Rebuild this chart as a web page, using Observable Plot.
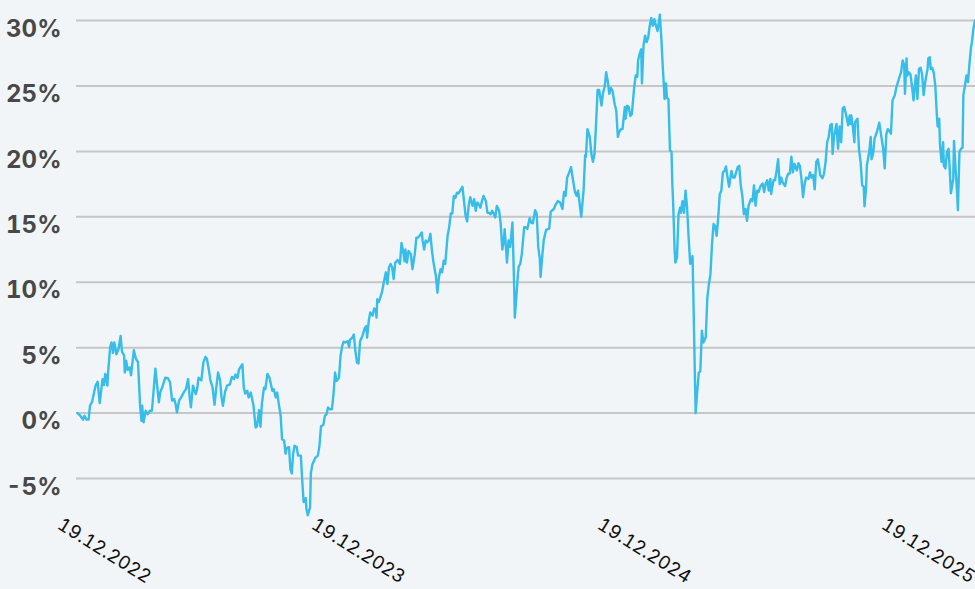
<!DOCTYPE html>
<html><head><meta charset="utf-8">
<script src="https://cdn.jsdelivr.net/npm/d3@7"></script>
<script src="https://cdn.jsdelivr.net/npm/@observablehq/plot@0.6"></script>
<style>
html,body{margin:0;padding:0;background:#f2f5f7;}
#chart{width:975px;height:589px;overflow:hidden;}
</style></head><body><div id="chart"></div>
<script>
// Series start date and day offsets from it, with cumulative performance in %
const startDate = "2022-12-19";
const endOffset = 1221;
const dayOffsets = [
33,37,41,43,46,49,51,54,59,62,65,69,71,73,76,77,80,82,84,86,89,92,95,97,100,101,103,105,108,110,114,117,120,123,125,126,128,131,134,137,140,143,145,148,150,152,155,159,163,166,169,172,174,176,179,182,186,189,192,194,196,199,203,205,207,211,214,217,219,222,224,227,230,232,235,238,240,242,245,248,252,255,258,260,263,265,267,270,272,274,277,279,282,284,286,289,291,294,296,298,301,303,306,309,313,315,318,320,322,325,327,330,332,334,337,339,341,343,345,348,350,354,356,358,361,362,364,
367,368,370,372,374,377,379,381,384,386,388,390,392,395,397,399,401,404,406,408,410,412,415,417,418,421,423,425,427,429,431,434,437,439,440,442,444,447,449,451,452,453,455,457,459,461,464,466,468,470,472,474,476,479,482,484,486,488,489,491,493,496,498,501,503,505,507,510,511,513,515,517,519,521,523,525,528,530,532,534,536,538,540,543,545,547,549,551,553,555,557,560,562,564,566,568,570,572,575,577,579,581,583,585,587,589,592,594,596,598,600,602,604,606,609,611,613,615,616,618,619,621,623,626,628,629,631,633,634,636,638,641,643,645,648,650,652,655,657,659,661,662,664,666,669,673,675,677,679,681,684,687,690,692,694,696,698,701,703,706,708,710,712,714,717,719,720,722,725,727,729,731,
733,735,737,740,742,744,746,748,750,752,754,757,759,761,763,765,767,770,771,773,775,777,779,782,784,786,787,789,791,792,794,796,798,800,802,804,806,808,810,812,814,815,817,819,820,821,823,824,826,828,830,831,832,834,835,837,839,841,842,844,846,848,850,852,854,857,858,859,860,861,863,865,867,869,871,874,876,878,880,882,884,886,888,890,892,894,896,898,900,902,904,907,909,911,913,915,917,919,921,923,925,927,929,932,934,936,938,940,942,944,947,949,951,953,955,957,958,961,963,965,967,969,971,973,976,978,980,982,984,986,988,991,993,995,997,999,1001,1003,1006,1008,1010,1012,1014,1016,1018,1020,1021,1024,1026,1028,1030,1032,1034,1036,1037,1039,1042,1044,1046,1048,1050,1052,1054,1057,1059,1060,1061,1063,1065,1066,1069,1071,1073,1075,1077,1078,1080,1081,1084,1086,1087,1089,1091,1094,
1097,1100,1102,1104,1106,1108,1110,1112,1114,1117,1119,1121,1123,1125,1127,1129,1130,1132,1133,1135,1137,1139,1141,1144,1146,1148,1150,1152,1154,1156,1159,1160,1162,1163,1165,1167,1169,1171,1172,1174,1175,1177,1179,1180,1182,1184,1186,1187,1189,1192,1193,1195,1197,1198,1200,1202,1204,1205,1207,1209,1211,1213,1215,1216,1218,1220
];
const values = [
0,-0.2,-0.5,-0.2,-0.5,-0.5,0.56,0.87,2.1,2.4,0.77,2.6,2.15,3.0,2.1,3.1,5.05,5.4,4.6,5.4,4.5,4.9,5.9,4.7,4.4,3.1,4.0,3.3,3.5,2.9,4.8,4.15,3.9,0.56,-0.6,0.56,-0.7,0.18,-0.08,0.18,0.18,2.1,3.4,1.85,0.82,1.6,2.0,2.7,2.67,2.36,0.95,1.08,0.7,0.05,0.95,1.2,1.6,1.85,2.6,1.33,0.44,2.1,1.46,1.85,2.7,2.5,3.9,4.3,4.15,3.25,2.5,2.0,0.64,1.7,3.1,2.5,1.2,0.56,1.6,2.1,2.2,2.77,2.6,2.95,2.7,3.3,3.5,3.73,1.95,1.5,1.7,1.2,1.57,1.07,0.56,-1.1,-1.0,0.23,-1.04,0.7,1.95,1.83,3.0,2.7,1.7,1.83,1.2,1.57,0.8,-0.2,-2.0,-2.1,-3.1,-2.65,-2.6,-4.3,-4.6,-3.1,-2.5,-2.6,-3.25,-3.25,-5.15,-6.8,-6.5,-7.3,-7.8,
-7.2,-4.6,-3.9,-3.65,-3.4,-3.25,-2.5,-1.0,-0.9,-0.2,-0.1,0.43,0.3,0.3,1.45,3.1,2.46,2.7,4.37,5.1,5.46,5.4,5.5,5.05,5.6,5.76,6.0,4.75,3.86,3.8,5.5,5.9,6.5,6.65,5.76,7.0,7.7,7.45,8.0,7.9,7.3,8.7,8.5,8.86,9.24,9.87,10.76,9.87,11.14,11.4,11.14,10.25,11.5,11.7,11.4,13.0,12.4,11.6,12.5,11.5,12.4,12.15,11.0,12.15,13.4,13.4,13.55,13.8,13.2,12.5,13.2,13.05,13.2,13.7,12.4,11.5,10.5,9.2,10.4,11.0,10.76,11.65,11.4,13.55,14.2,15.25,15.25,16.6,16.45,16.85,16.8,17.1,17.3,16.2,15.1,14.65,15.84,16.5,15.84,16.35,15.46,16.1,15.96,15.7,16.2,16.6,16.2,15.3,15.3,15.2,15.46,15.25,14.95,15.84,15.46,14.44,12.5,13.2,14.06,12.4,11.5,13.2,12.7,14.57,10.1,7.3,8.86,10.6,11.2,11.4,12.16,14.2,14.2,14.07,14.9,14.55,14.5,15.5,15.25,12.7,11.8,10.4,11.9,13.2,14.0,14.1,15.4,15.5,15.6,15.9,16.2,16.1,15.6,16.9,16.6,18.0,18.3,18.8,18.0,16.9,16.6,17.0,16.0,15.0,17.0,19.7,19.6,21.7,21.1,19.8,19.2,19.8,
22.1,24.7,24.7,23.5,24.5,24.9,26.05,25.4,24.4,24.85,24.65,23.6,23.1,21.1,21.5,21.7,21.7,23.4,22.5,23.5,23.4,22.7,22.85,24.9,25.8,25.7,26.95,27.45,27.8,25.2,28.1,28.85,28.35,28.7,29.6,30.2,29.6,30.1,29.6,29.2,30.0,30.45,28.5,26.2,25.2,24.0,25.2,24.1,24.0,20.1,19.95,17.5,16.2,12.4,11.5,11.9,15.2,15.7,15.3,16.2,15.3,17.0,15.7,13.4,11.4,12.0,9.1,6.0,2.9,0.0,1.65,3.1,3.2,6.3,5.4,5.8,8.8,9.85,10.6,12.9,14.45,14.3,13.55,14.95,16.75,17.0,18.4,18.5,18.85,18.0,17.3,18.5,18.0,18.0,18.4,18.8,18.9,17.4,16.6,15.2,15.6,14.7,15.85,16.35,16.2,17.4,15.85,17.0,16.9,17.3,17.55,16.9,17.55,17.8,17.0,17.9,16.75,17.8,17.8,18.5,19.4,17.5,18.0,17.6,17.35,18.0,18.3,18.3,19.6,18.4,19.05,18.55,19.1,18.9,17.9,16.5,17.5,18.0,17.9,18.4,18.0,18.2,17.1,19.2,19.4,18.7,18.2,17.95,18.3,19.2,20.7,21.1,22.0,22.1,19.8,21.2,22.1,20.2,21.9,20.7,23.3,23.4,22.9,22.0,22.75,22.1,22.75,21.9,20.7,22.25,22.5,20.1,19.2,17.4,17.3,15.8,17.15,18.9,19.95,21.1,19.4,19.8,21.0,21.5,
22.2,21.0,20.2,18.7,21.3,21.7,21.55,21.35,23.9,24.3,24.9,25.3,25.7,26.05,26.95,26.6,24.4,27.1,25.8,26.05,25.9,25.0,23.9,25.8,24.0,26.3,26.4,25.9,24.3,25.3,26.3,27.1,27.2,26.3,26.4,26.0,25.0,22.75,21.9,22.5,20.5,19.2,20.7,18.9,18.7,19.95,20.2,19.2,16.8,17.9,20.8,18.7,16.8,15.5,19.95,20.2,20.3,24.3,25.0,25.8,25.3,26.8,28.0,28.35,29.4,30.0
];
const tickLabels = ["19.12.2022", "19.12.2023", "19.12.2024", "19.12.2025"];
const yTicks = [-5, 0, 5, 10, 15, 20, 25, 30];

const start = d3.utcParse("%Y-%m-%d")(startDate);
const parseTick = d3.utcParse("%d.%m.%Y");
const tickDates = tickLabels.map(parseTick);
const endDate = d3.utcDay.offset(start, endOffset);
const data = dayOffsets.map((d, i) => ({date: d3.utcDay.offset(start, d), value: values[i]}));
const labelOf = new Map(tickDates.map((d, i) => [+d, tickLabels[i]]));

const chart = Plot.plot({
  width: 975,
  height: 589,
  marginLeft: 76,
  marginRight: 0,
  marginTop: 13.5,
  marginBottom: 71.7,
  style: {background: "#f2f5f7", fontFamily: "Inter, sans-serif", overflow: "visible"},
  x: {type: "utc", domain: [...tickDates, endDate], range: [54, 308, 594, 878, 975.3]},
  y: {domain: [-8, 30.5], range: [517.3, 13.5]},
  marks: [
    Plot.gridY(yTicks, {stroke: "#c6c6c6", strokeOpacity: 1, strokeWidth: 2}),
    Plot.line(data, {x: "date", y: "value", stroke: "#36bdea", strokeWidth: 2.4}),
    Plot.axisY(yTicks, {tickSize: 0, tickPadding: 15, tickFormat: d => d + "%", fontSize: 24, fontWeight: 700, fill: "#484848", dy: 8.5, label: null}),
    Plot.axisX(tickDates, {tickSize: 0, tickPadding: 5, dx: 5, tickRotate: 32, tickFormat: d => labelOf.get(+d), fontSize: 18.5, fill: "#111", label: null})
  ]
});
document.getElementById("chart").appendChild(chart);
</script>
</body></html>
